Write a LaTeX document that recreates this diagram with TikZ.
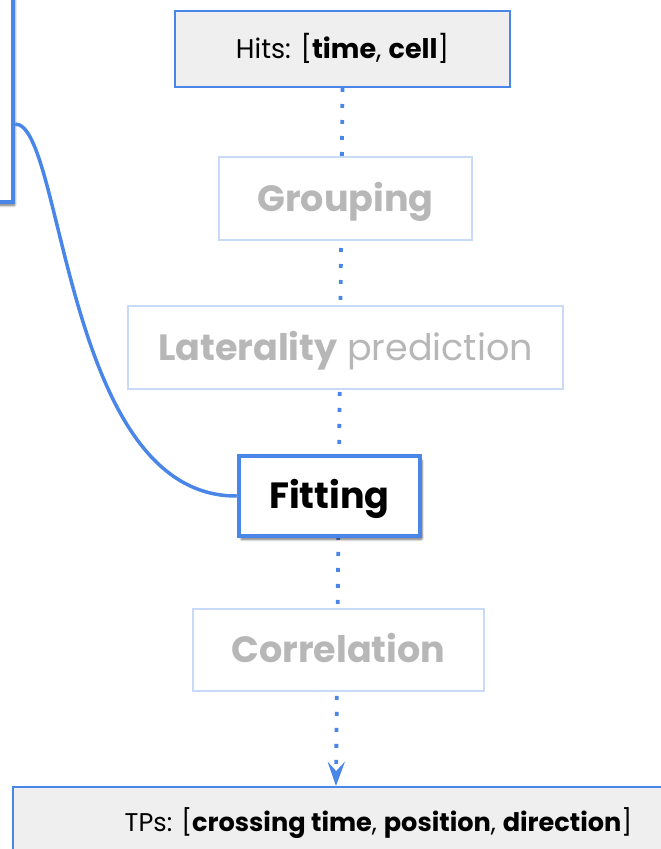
\documentclass[tikz,border=0pt]{standalone}
\usepackage{fontspec}
\setmainfont{Poppins}
\usetikzlibrary{shadows.blur,backgrounds,arrows.meta}
\definecolor{gblue}{HTML}{4A86E8}
\definecolor{lblue}{HTML}{C9DAF8}
\definecolor{gtext}{HTML}{B7B7B7}
\definecolor{gfill}{HTML}{EFEFEF}
\begin{document}
\begin{tikzpicture}[x=1pt,y=-1pt,
 box/.style={rectangle, inner sep=0pt, anchor=center},
 iobox/.style={box, draw=gblue, line width=2pt, fill=gfill, font=\fontsize{27}{32}\selectfont, text height=19pt, text depth=0pt},
 faded/.style={box, draw=lblue, line width=1.6pt, fill=white, text=gtext, font=\fontsize{36.5}{42}\selectfont, text height=25.5pt, text depth=0pt},
 active/.style={box, draw=gblue, line width=4.5pt, fill=white, font=\fontsize{36.5}{42}\selectfont, text height=25.5pt, text depth=0pt,
   blur shadow={shadow xshift=2pt, shadow yshift=-3.5pt, shadow blur steps=6, shadow blur extra rounding=1pt, shadow opacity=55}},
 flow/.style={gblue, line width=3.8pt, dash pattern=on 3.8pt off 12.2pt},
 link/.style={gblue, line width=3.5pt}]
\useasboundingbox (0,0) rectangle (661,849);
\clip (0,0) rectangle (661,849);
\node[active, minimum width=46pt, minimum height=214pt] (left) at (-10,95) {};
\node[iobox, minimum width=335pt, minimum height=76pt] (hits) at (342.5,49) {Hits: [\textbf{time}, \textbf{cell}]};
\node[faded, minimum width=253pt, minimum height=83pt] (group) at (345.5,198.5) {\textbf{Grouping}};
\node[faded, minimum width=435pt, minimum height=83pt] (lat) at (345.5,347.5) {\textbf{Laterality} prediction};
\node[active, minimum width=181pt, minimum height=80pt] (fit) at (329.5,496) {\textbf{Fitting}};
\node[faded, minimum width=291pt, minimum height=82pt] (corr) at (338.5,650) {\textbf{Correlation}};
\node[iobox, minimum width=667pt, minimum height=83pt] (tps) at (346.5,828.5) {};
\node[box, font=\fontsize{25.6}{32}\selectfont, text height=18.5pt, text depth=0pt] (tpstext) at (378.5,822) {TPs: [\textbf{crossing time}, \textbf{position}, \textbf{direction}]};
\coordinate (tip) at (336,786);
\begin{scope}[on background layer]
\draw[flow, -{Stealth[length=24pt,width=17pt,inset=9pt]}] (hits.south) -- (tip);
\end{scope}
\draw[link] ([yshift=-29pt]left.east) .. controls (64,124) and (64,497) .. (fit.west);
\end{tikzpicture}
\end{document}
